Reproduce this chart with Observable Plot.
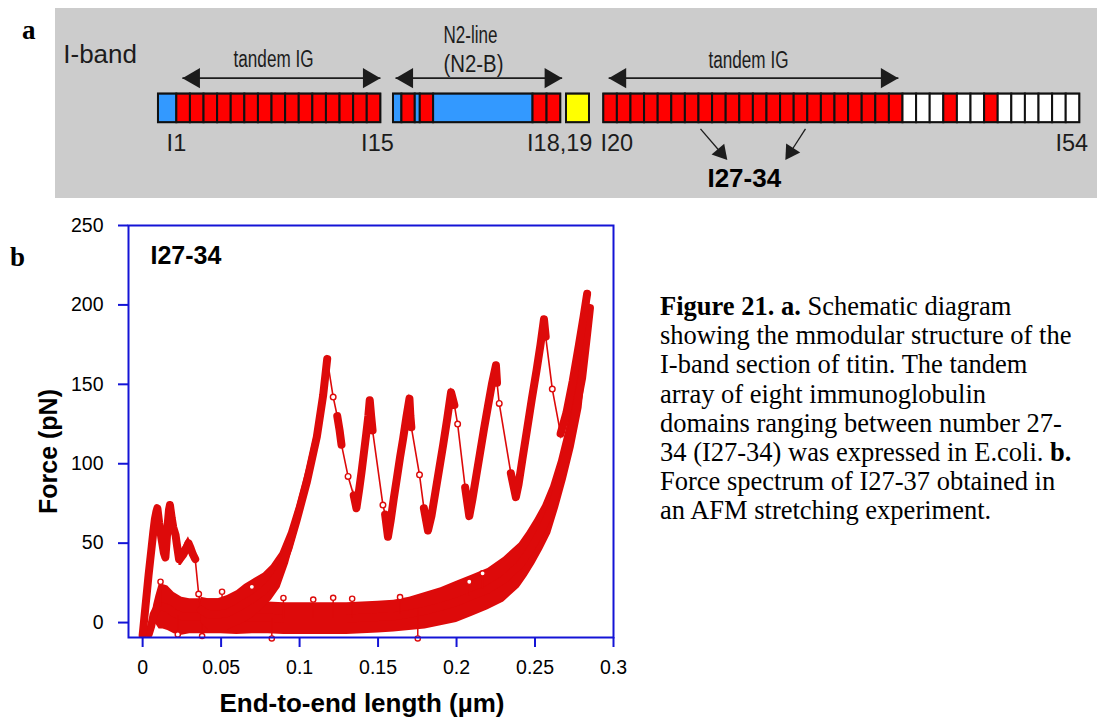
<!DOCTYPE html>
<html>
<head>
<meta charset="utf-8">
<script src="https://cdn.jsdelivr.net/npm/d3@7"></script>
<script src="https://cdn.jsdelivr.net/npm/@observablehq/plot@0.6"></script>
<style>
  body { margin: 0; background: #fff; }
  #page { position: relative; width: 1097px; height: 717px; overflow: hidden; font-family: "Liberation Sans", Arial, sans-serif; }
  #schematic { position: absolute; left: 55px; top: 8px; width: 1042px; height: 190px; }
  #spectrum { position: absolute; left: 0; top: 200px; width: 640px; height: 517px; }
  .panel-tag { position: absolute; font-family: "Liberation Serif", "Times New Roman", serif; font-weight: bold; font-size: 27px; line-height: 27px; }
  #caption { position: absolute; left: 660px; top: 292px; font-family: "Liberation Serif", "Times New Roman", serif; font-size: 26.5px; line-height: 29.2px; white-space: nowrap; color: #000; }
</style>
</head>
<body>
<div id="page">
  <div id="schematic"></div>
  <div id="spectrum"></div>
  <div id="caption"><b>Figure 21. a.</b> Schematic diagram<br>showing the mmodular structure of the<br>I-band section of titin. The tandem<br>array of eight immunoglobulin<br>domains ranging between number 27-<br>34 (I27-34) was expressed in E.coli. <b>b.</b><br>Force spectrum of I27-37 obtained in<br>an AFM stretching experiment.</div>
  <div class="panel-tag" style="left:22px; top:17px">a</div>
  <div class="panel-tag" style="left:10px; top:244px">b</div>
</div>
<script>
// ===================== a: I-band domain map =====================
// Domain classes and their fills
const domainTypes  = ["Ig", "unique", "PEVK", "Ig (spliced)"];
const domainColors = ["#ff0000", "#3399ff", "#ffff00", "#ffffff"];
const codeType = {R: "Ig", B: "unique", Y: "PEVK", W: "Ig (spliced)"};

// Segments along the I-band; positions in Ig-module widths counted from I1
const segmentNames    = ["I1-I15", "N2-B", "PEVK", "I20-I54"];
const segmentStart    = [0, 17.28, 30.0, 32.74];
const segmentPatterns = [
  "B" + "R".repeat(15),
  "BRBRBRR",
  "Y",
  "R".repeat(22) + "WWW" + "R" + "WW" + "R" + "WWWWWW"
];
const segmentWidths = [
  [1.35, 1, 1, 1, 1, 1, 1, 1, 1, 1, 1, 1, 1, 1, 1, 1],
  [0.62, 0.98, 0.37, 0.98, 7.31, 1.03, 1.01],
  [1.69],
  Array.from({length: 35}, () => 1)
];

// Double-headed range arrows above the bar
const rangeFrom = [1.76, 17.43, 33.1];
const rangeTo   = [16.32, 29.68, 54.4];

// Domain numbers under the bar
const domainLabels   = ["I1", "I15", "I18,19", "I20", "I54"];
const domainLabelPos = [0.6, 14.9, 27.1, 32.5, 65.95];

// Header texts: label, x, row, drawn width (px)
const headerText  = ["tandem IG", "N2-line", "(N2-B)", "tandem IG"];
const headerX     = [8.46, 22.94, 23.16, 43.38];
const headerRow   = [3.75, 2.0, 4.15, 3.8];
const headerWidth = [80, 54, 60, 80];

// Pointers to the I27-34 construct
const pointerFromX = [39.85, 47.57], pointerFromY = [8.85, 8.85];
const pointerToX   = [41.81, 46.10], pointerToY   = [11.13, 11.13];

// Vertical layout of the map (module widths from the top of the panel)
const BAR_TOP = 6.29, BAR_BOTTOM = 8.40, RANGE_ROW = 5.12, LABEL_ROW = 9.93, CONSTRUCT_ROW = 12.53;

const cells = segmentPatterns.flatMap((pattern, s) => {
  let x = segmentStart[s];
  return [...pattern].map((code, i) => {
    const w = segmentWidths[s][i];
    const cell = {segment: segmentNames[s], type: codeType[code], x1: x, x2: x + w};
    x += w;
    return cell;
  });
});
const segmentBoxes = segmentNames.map((name, s) => ({
  x1: segmentStart[s],
  x2: segmentStart[s] + d3.sum(segmentWidths[s])
}));

const ranges = rangeFrom.map((f, i) => ({from: f, to: rangeTo[i]}));
const RANGE_HEAD = 0.86; // centroid-to-tip of the arrowhead symbol, in module widths
const rangeHeads = ranges.flatMap(r => [
  {x: r.from + RANGE_HEAD, angle: -90},
  {x: r.to - RANGE_HEAD, angle: 90}
]);

const pointers = pointerFromX.map((x1, i) => {
  const x2 = pointerToX[i], y1 = pointerFromY[i], y2 = pointerToY[i];
  const len = Math.hypot(x2 - x1, y2 - y1);
  const ux = (x2 - x1) / len, uy = (y2 - y1) / len;
  const back = 0.69;
  return {x1, y1, x2: x2 - ux * back, y2: y2 - uy * back,
          hx: x2 - ux * back, hy: y2 - uy * back,
          angle: Math.atan2(ux, -uy) * 180 / Math.PI};
});

const ink = "#1c1c1c";
const sans = "Liberation Sans, Arial, sans-serif";

const schematic = Plot.plot({
  width: 1042,
  height: 190,
  margin: 0,
  style: {background: "#cccccc", fontFamily: sans},
  x: {domain: [-7.57, 69.04], axis: null},
  y: {domain: [0, 13.97], reverse: true, axis: null},
  color: {domain: domainTypes, range: domainColors},
  marks: [
    Plot.rect(cells, {x1: "x1", x2: "x2", y1: BAR_TOP, y2: BAR_BOTTOM, fill: "type", stroke: "#111", strokeWidth: 2}),
    Plot.rect(segmentBoxes, {x1: "x1", x2: "x2", y1: BAR_TOP, y2: BAR_BOTTOM, fill: "none", stroke: "#111", strokeWidth: 1.5}),
    Plot.link(ranges, {x1: "from", x2: "to", y1: RANGE_ROW, y2: RANGE_ROW, stroke: ink, strokeWidth: 1.6}),
    Plot.dot(rangeHeads, {x: "x", y: RANGE_ROW, symbol: "triangle", r: 7.5, fill: ink, stroke: "none", rotate: "angle"}),
    Plot.link(pointers, {x1: "x1", y1: "y1", x2: "x2", y2: "y2", stroke: ink, strokeWidth: 1.3}),
    Plot.dot(pointers, {x: "hx", y: "hy", symbol: "triangle", r: 6.2, fill: ink, stroke: "none", rotate: "angle"}),
    Plot.text(["I-band"], {x: -7.0, y: 3.43, textAnchor: "start", lineAnchor: "middle", fontSize: 26, fill: ink}),
    Plot.text(headerText, {x: (d, i) => headerX[i], y: (d, i) => headerRow[i], text: d => d, textAnchor: "middle", lineAnchor: "middle", fontSize: 23, fill: ink}),
    Plot.text(domainLabels, {x: (d, i) => domainLabelPos[i], y: LABEL_ROW, text: d => d, textAnchor: "start", lineAnchor: "middle", fontSize: 23.5, fill: ink}),
    Plot.text(["I27-34"], {x: 43.07, y: CONSTRUCT_ROW, textAnchor: "middle", lineAnchor: "middle", fontSize: 26, fontWeight: "bold", fill: "#000"})
  ]
});
// condensed header lettering
d3.select(schematic).selectAll("text").each(function () {
  const i = headerText.indexOf(this.textContent);
  if (i >= 0) {
    this.setAttribute("textLength", headerWidth[i]);
    this.setAttribute("lengthAdjust", "spacingAndGlyphs");
  }
});
document.getElementById("schematic").appendChild(schematic);

// ===================== b: force spectrum of I27-34 =====================
// Extension trace: end-to-end length (µm), force (pN), noise half-width (pN),
// segment id (0 = isolated point on a rupture drop)
const extLength = [
  0.0000, 0.0008, 0.0018, 0.0028, 0.0038, 0.0048, 0.0058, 0.0068, 0.0078, 0.0088, 0.0094,
  0.0105, 0.0120, 0.0135, 0.0145, 0.0152, 0.0160, 0.0168, 0.0174, 0.0185, 0.0195, 0.0210,
  0.0220, 0.0232, 0.0245, 0.0260, 0.0275, 0.0292, 0.0305, 0.0320, 0.0335,
  0.0357,
  0.0372, 0.0420, 0.0480, 0.0540, 0.0600, 0.0650, 0.0700, 0.0770, 0.0820, 0.0876, 0.0930,
  0.0980, 0.1045, 0.1110, 0.1150, 0.1176,
  0.1214,
  0.1240, 0.1255, 0.1267,
  0.1309,
  0.1345, 0.1362, 0.1380, 0.1395, 0.1410, 0.1425, 0.1438, 0.1447, 0.1456, 0.1465,
  0.1531,
  0.1545, 0.1563, 0.1580, 0.1600, 0.1620, 0.1640, 0.1660, 0.1680, 0.1700, 0.1706, 0.1712,
  0.1764,
  0.1792, 0.1818, 0.1840, 0.1865, 0.1890, 0.1915, 0.1940, 0.1965, 0.1986,
  0.2007,
  0.2055, 0.2081, 0.2100, 0.2125, 0.2150, 0.2175, 0.2200, 0.2225, 0.2251, 0.2258,
  0.2272,
  0.2346, 0.2378, 0.2395, 0.2420, 0.2450, 0.2480, 0.2510, 0.2535, 0.2557, 0.2568,
  0.2610,
  0.2663, 0.2700, 0.2740, 0.2780, 0.2810, 0.2832
];
const extForce = [
  -8, 0, 10, 20, 30, 39, 48, 57, 65, 70, 72,
  63, 53, 44, 41, 50, 62, 71, 74, 66, 60, 55,
  48, 40, 41, 43, 46, 50, 47, 43, 40,
  18,
  8, 5, 5, 6, 9, 12, 15, 20, 25, 33, 47,
  64, 88, 117, 143, 166,
  142,
  130, 121, 112,
  92,
  80, 72, 84, 95, 107, 119, 130, 140, 130, 121,
  74,
  68, 54, 64, 78, 91, 104, 116, 129, 141, 130, 123,
  93,
  72, 58, 67, 82, 97, 112, 128, 145, 137,
  125,
  85, 67, 77, 92, 107, 122, 136, 150, 162, 151,
  138,
  94, 79, 87, 103, 122, 141, 159, 175, 191, 180,
  147,
  119, 132, 152, 175, 193, 207
];
const extSpread = [
  3, 3, 3, 3, 3, 3, 3, 3, 3, 3, 2,
  3, 4, 4, 3, 3, 3, 3, 2, 4, 4, 5,
  5, 4, 5, 5, 5, 4, 4, 4, 3,
  0,
  8, 10, 10, 11, 11, 12, 12, 11, 11, 11, 10,
  9, 9, 8, 7, 3,
  0,
  3, 4, 3,
  0,
  4, 3, 4, 5, 5, 5, 4, 2, 3, 3,
  0,
  4, 3, 4, 5, 5, 5, 5, 5, 3, 3, 3,
  0,
  4, 3, 4, 5, 5, 5, 5, 3, 3,
  0,
  4, 3, 4, 5, 5, 5, 5, 4, 2, 3,
  0,
  4, 3, 4, 5, 5, 5, 5, 4, 2, 3,
  0,
  4, 5, 6, 6, 5, 2
];
const extSegment = [
  1, 1, 1, 1, 1, 1, 1, 1, 1, 1, 1,
  1, 1, 1, 1, 1, 1, 1, 1, 1, 1, 1,
  1, 1, 1, 1, 1, 1, 1, 1, 1,
  0,
  2, 2, 2, 2, 2, 2, 2, 2, 2, 2, 2,
  2, 2, 2, 2, 2,
  0,
  3, 3, 3,
  0,
  4, 4, 4, 4, 4, 4, 4, 4, 4, 4,
  0,
  5, 5, 5, 5, 5, 5, 5, 5, 5, 5, 5,
  0,
  6, 6, 6, 6, 6, 6, 6, 6, 6,
  0,
  7, 7, 7, 7, 7, 7, 7, 7, 7, 7,
  0,
  8, 8, 8, 8, 8, 8, 8, 8, 8, 8,
  0,
  9, 9, 9, 9, 9, 9
];

// Relaxation trace: length (µm), force (pN), noise half-width (pN)
const relLength = [
  0.0040, 0.0055, 0.0070, 0.0085, 0.0105, 0.0130, 0.0160, 0.0200, 0.0250, 0.0300,
  0.0400, 0.0500, 0.0600, 0.0700, 0.0800, 0.0900, 0.1000, 0.1100, 0.1200, 0.1300,
  0.1400, 0.1500, 0.1600, 0.1700, 0.1800, 0.1900, 0.2000, 0.2100, 0.2200, 0.2300,
  0.2400, 0.2450, 0.2500, 0.2550, 0.2600, 0.2650, 0.2700, 0.2750, 0.2800, 0.2830, 0.2850
];
const relForce = [
  -7, -2, 5, 8, 10, 10, 9, 6, 4, 4,
  4, 4, 3.5, 3, 3, 2.5, 2.5, 2.5, 2.5, 2.5,
  3, 3.5, 4, 5.5, 7.5, 10, 13, 17, 21, 27,
  36, 43, 51, 60, 71, 87, 106, 128, 154, 180, 198
];
const relSpread = [
  2, 4, 6, 9, 14, 14, 14, 13, 12, 11,
  11, 11, 11, 10, 10, 10, 10, 10, 10, 10,
  10, 10, 10, 10.5, 11.5, 12, 13, 13, 13, 14,
  14, 14, 14, 14, 15, 15, 16, 18, 19, 16, 8
];

// Stray readings standing off the noise band
const strayLength = [0.0114, 0.0506, 0.0696, 0.0897, 0.1087, 0.1214, 0.1335, 0.1640, 0.0224, 0.0379, 0.0823, 0.1753, 0.2081, 0.2166];
const strayForce  = [25.7, 19.4, 22.5, 15.5, 14.5, 15.6, 15, 16, -7.5, -8.5, -10, -10, 25.7, 31];

// Axis ticks
const xTicks = [0, 0.05, 0.1, 0.15, 0.2, 0.25, 0.3];
const xTickLabels = ["0", "0.05", "0.1", "0.15", "0.2", "0.25", "0.3"];
const yTicks = [0, 50, 100, 150, 200, 250];
const yTickLabels = ["0", "50", "100", "150", "200", "250"];

const RED = "#dd0a0a";
const BLUE = "#1414d6";

const extension = extLength.map((x, i) => ({x, f: extForce[i], s: extSpread[i], seg: extSegment[i]}));
const extDense = extension.filter(d => d.seg > 0);
const extDrops = extension.filter(d => d.seg === 0);
const relaxation = relLength.map((x, i) => ({x, f: relForce[i], s: relSpread[i]}));
// each stray reading hangs off the band centre at its length
const bandCentre = x => relForce[d3.bisectLeft(relLength, x)];
const strays = strayLength.map((x, i) => ({x, f: strayForce[i], base: bandCentre(x)}));

const spectrum = Plot.plot({
  width: 640,
  height: 517,
  marginLeft: 128,
  marginRight: 27,
  marginTop: 25,
  marginBottom: 80,
  style: {background: "transparent", fontFamily: sans, fontSize: "19.5px", color: "#000"},
  x: {domain: [-0.009, 0.3]},
  y: {domain: [-9.4, 250]},
  marks: [
    Plot.areaY(relaxation, {x: "x", y1: d => d.f - d.s, y2: d => d.f + d.s, fill: RED, clip: true}),
    Plot.line(relaxation, {x: "x", y: "f", stroke: RED, strokeWidth: 8, strokeLinejoin: "round", strokeLinecap: "round", clip: true}),
    Plot.ruleX(strays, {x: "x", y1: "base", y2: "f", stroke: RED, strokeWidth: 1.5}),
    Plot.areaY(extDense, {x: "x", y1: d => d.f - d.s, y2: d => d.f + d.s, z: "seg", fill: RED, clip: true}),
    Plot.line(extension, {x: "x", y: "f", stroke: RED, strokeWidth: 1.6, clip: true}),
    Plot.line(extDense, {x: "x", y: "f", z: "seg", stroke: RED, strokeWidth: 8, strokeLinejoin: "round", strokeLinecap: "round", clip: true}),
    Plot.dot(extDrops, {x: "x", y: "f", r: 2.8, stroke: RED, strokeWidth: 1.4, fill: "#fff"}),
    Plot.dot(strays, {x: "x", y: "f", r: 2.6, stroke: RED, strokeWidth: 1.4, fill: "#fff"}),
    Plot.frame({stroke: BLUE, strokeWidth: 2}),
    Plot.axisX({ticks: xTicks, tickFormat: d => xTickLabels[xTicks.indexOf(d)], tickSize: 10, tickPadding: 13, stroke: BLUE, strokeWidth: 2, fill: "#000", label: null}),
    Plot.axisY({ticks: yTicks, tickFormat: d => yTickLabels[yTicks.indexOf(d)], tickSize: 10, tickPadding: 15, stroke: BLUE, strokeWidth: 2, fill: "#000", label: null}),
    Plot.text(["I27-34"], {frameAnchor: "top-left", dx: 22, dy: 30, textAnchor: "start", lineAnchor: "middle", fontSize: 25, fontWeight: "bold", fill: "#000"}),
    Plot.text(["Force (pN)"], {frameAnchor: "left", dx: -80, dy: 20, rotate: -90, textAnchor: "middle", lineAnchor: "middle", fontSize: 25, fontWeight: "bold", fill: "#000"}),
    Plot.text(["End-to-end length (µm)"], {frameAnchor: "bottom", dx: -9, dy: 66, textAnchor: "middle", lineAnchor: "middle", fontSize: 26, fontWeight: "bold", fill: "#000"})
  ]
});
document.getElementById("spectrum").appendChild(spectrum);
</script>
</body>
</html>
